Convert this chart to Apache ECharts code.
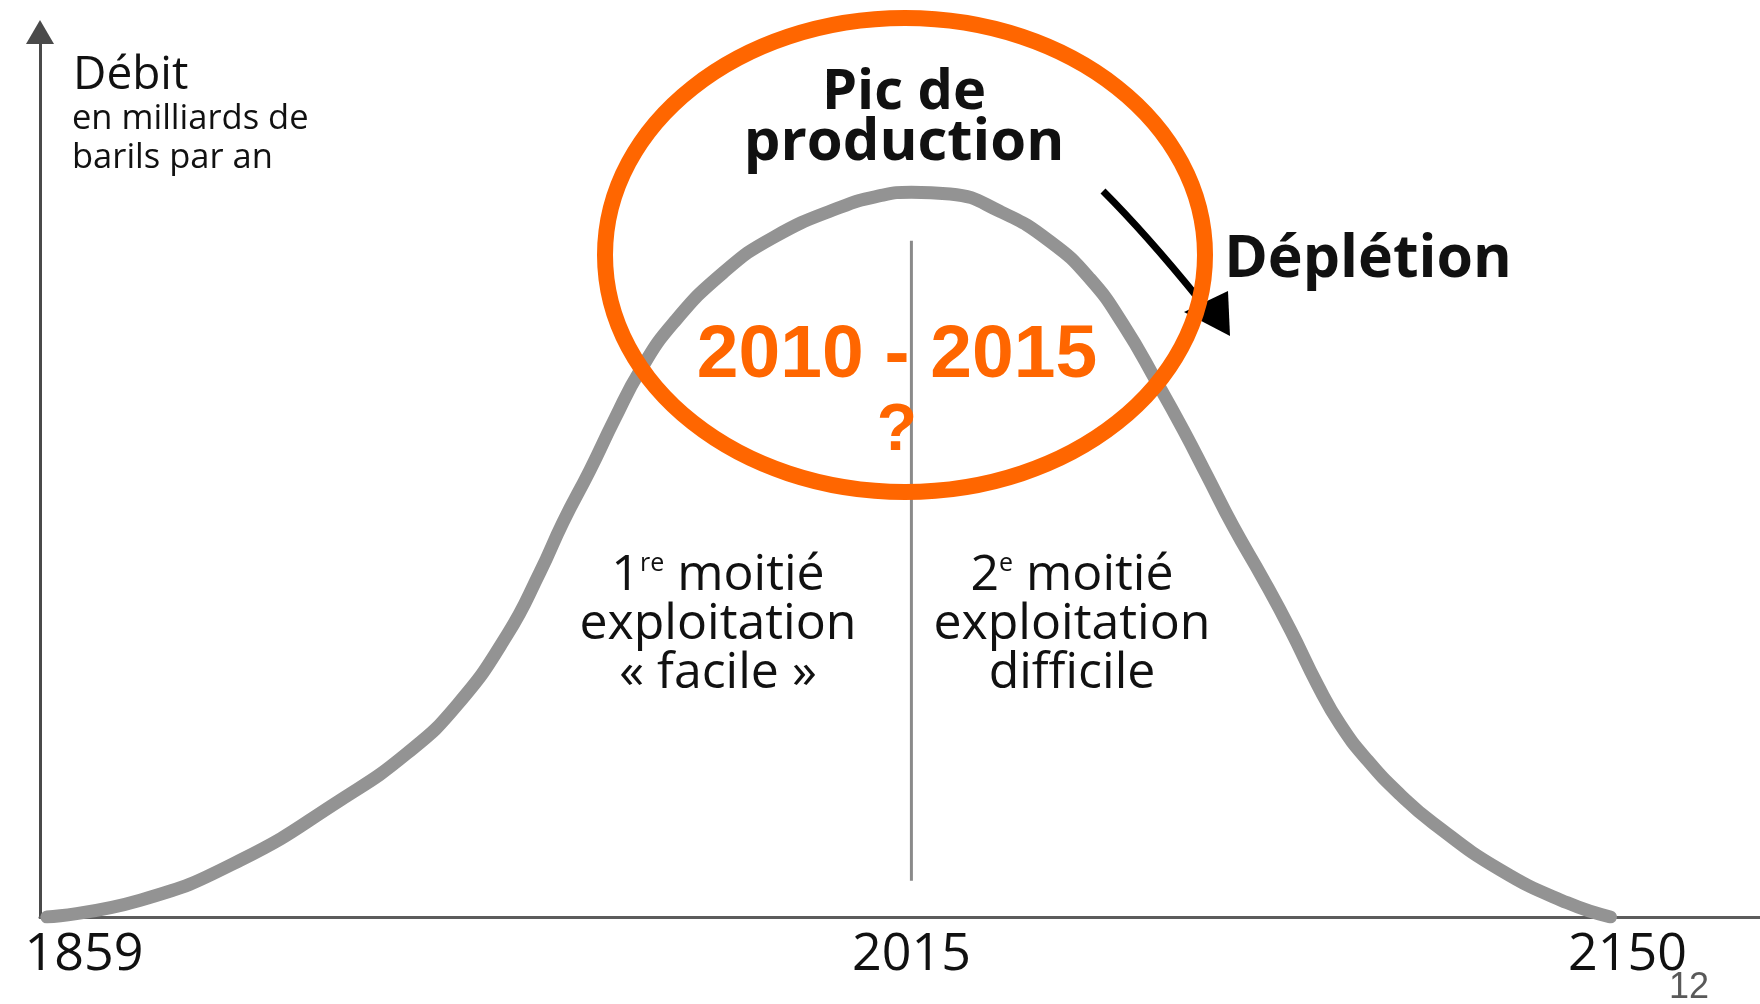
<!DOCTYPE html>
<html>
<head>
<meta charset="utf-8">
<title>Pic de production</title>
<script src="https://cdn.jsdelivr.net/npm/echarts@6/dist/echarts.min.js"></script>
<style>
  html, body { margin: 0; background: #fff; }
  #chart { width: 1760px; height: 1004px; }
</style>
</head>
<body>
<div id="chart"></div>
<script>
// Hubbert-style curve: yearly flow (index, peak ~82).
const years = [1852, 1869.6, 1888.4, 1907.3, 1919.9, 1929.4, 1938.8, 1945, 1949.3, 1954.4, 1959, 1963.9,
  1970.1, 1979.5, 1989, 2001.6, 2009.1, 2015, 2022.3, 2031.8, 2041.2, 2048.7, 2055, 2061.4, 2066.3,
  2070.8, 2075.7, 2081.4, 2086.5, 2091.6, 2095.9, 2101, 2107.2, 2113.4, 2126.1, 2138.7, 2146.8]
const flow = [0, 1.9, 6.4, 13.2, 18.5, 24.0, 31.9, 39.0, 44.6, 50.5, 56.2, 61.8,
  67.1, 72.8, 76.8, 80.2, 81.5, 81.9, 81.7, 79.7, 76.3, 72.1, 66.9, 60.3, 55.0,
  49.8, 44.1, 38.1, 32.4, 26.2, 21.7, 17.7, 13.8, 10.6, 5.3, 1.6, 0]
const tickYears = [1859, 2015, 2150]
const peakYear = 2015
const dividerSpan = [4.1, 76.4]

const INK = "#111"
const CURVE = "#939393"
const ORANGE = "#ff6600"
const SANS = "Open Sans"
const ARIAL = "Liberation Sans"

const chart = echarts.init(document.getElementById("chart"), null, {renderer: "canvas"})

const text = (x, y, str, size, weight, extra) => ({
  type: "text",
  z: 50,
  style: Object.assign({
    x, y, text: str,
    fontSize: size, fontFamily: SANS, fontWeight: weight,
    fill: INK,
    align: "center", verticalAlign: "middle",
    textAlign: "center", textVerticalAlign: "middle",
  }, extra || {}),
})

const sup = {fontSize: 25, fontFamily: SANS, fill: INK, verticalAlign: "top", lineHeight: 30}
const left = {align: "left", textAlign: "left"}

chart.setOption({
  animation: false,
  backgroundColor: "#fff",
  grid: {left: 40, right: 0, top: 32, bottom: 87, outerBoundsMode: "none"},
  xAxis: {
    type: "value",
    min: 1850.7,
    max: 2175,
    axisLine: {lineStyle: {color: "#5c5c5c", width: 3}},
    axisTick: {show: false},
    splitLine: {show: false},
    axisLabel: {
      customValues: tickYears,
      formatter: (v) => String(v),
      color: INK, fontFamily: SANS, fontSize: 52, margin: 12,
    },
  },
  yAxis: {
    type: "value",
    min: 0,
    max: 100,
    axisLine: {
      show: true,
      symbol: ["none", "triangle"],
      symbolSize: [28, 24],
      lineStyle: {color: "#4a4a4a", width: 3},
    },
    axisTick: {show: false},
    axisLabel: {show: false},
    splitLine: {show: false},
  },
  series: [
    {
      type: "line",
      data: years.map((y, i) => [y, flow[i]]),
      smooth: 0.5,
      showSymbol: false,
      silent: true,
      z: 2,
      lineStyle: {color: CURVE, width: 13, cap: "round"},
    },
    {
      type: "line",
      data: dividerSpan.map((v) => [peakYear, v]),
      showSymbol: false,
      silent: true,
      z: 3,
      lineStyle: {color: "#8a8a8a", width: 3},
    },
  ],
  graphic: {
    elements: [
      text(73, 76, "Débit", 46, "normal", left),
      text(72, 119, "en milliards de", 34.5, "normal", left),
      text(72, 158, "barils par an", 34.5, "normal", left),

      text(904, 93, "Pic de", 56, "bold"),
      text(904, 143, "production", 58, "bold"),
      text(1368, 260, "Déplétion", 59, "bold"),

      text(718, 576, "1{sup|re} moitié", 50, "normal", {lineHeight: 49, rich: {sup}}),
      text(718, 625, "exploitation", 50, "normal"),
      text(718, 674, "« facile »", 50, "normal"),
      text(1072, 576, "2{sup|e} moitié", 50, "normal", {lineHeight: 49, rich: {sup}}),
      text(1072, 625, "exploitation", 50, "normal"),
      text(1072, 674, "difficile", 50, "normal"),

      // depletion arrow
      {
        type: "bezierCurve", z: 40,
        shape: {x1: 1103, y1: 191, x2: 1198, y2: 298, cpx1: 1146, cpy1: 234},
        style: {stroke: "#000", lineWidth: 7, fill: "none"},
      },
      {
        type: "polygon", z: 40,
        shape: {points: [[1184, 312], [1228, 291], [1230, 336]]},
        style: {fill: "#000"},
      },

      // orange ring round the peak
      {
        type: "ellipse", z: 100,
        shape: {cx: 905, cy: 255, rx: 300, ry: 237},
        style: {fill: "none", stroke: ORANGE, lineWidth: 16},
      },
      text(897, 356, "2010 - 2015", 75, "bold", {fontFamily: ARIAL, fill: ORANGE}),
      text(897, 432, "?", 66, "bold", {fontFamily: ARIAL, fill: ORANGE}),

      // slide number
      text(1689, 988, "12", 36, "normal", {fontFamily: ARIAL, fill: "#595959"}),
    ],
  },
})
</script>
</body>
</html>
